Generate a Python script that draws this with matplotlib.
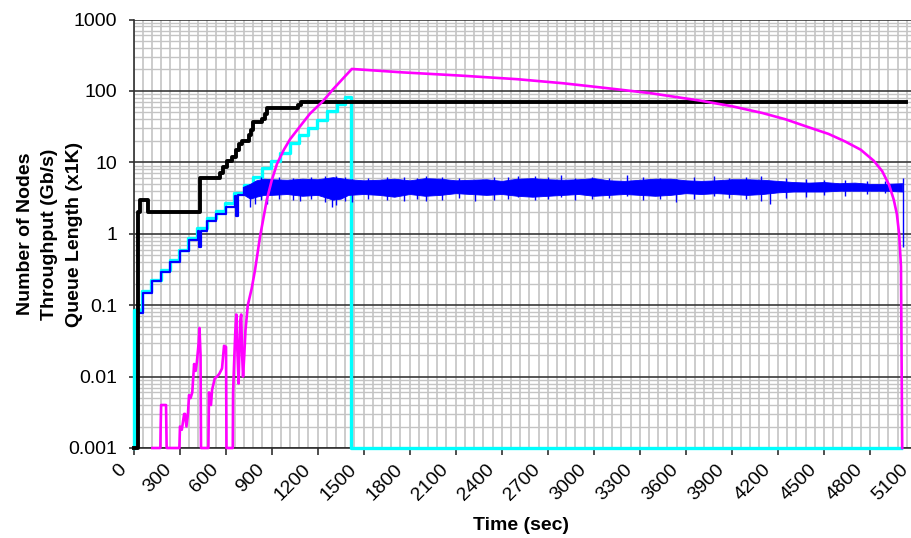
import matplotlib
matplotlib.use('Agg')
import matplotlib.pyplot as plt
import matplotlib.transforms as mtransforms
from matplotlib.ticker import FixedLocator, FixedFormatter, MultipleLocator, LogLocator, NullFormatter

plt.rcParams['font.family'] = ['Liberation Sans', 'DejaVu Sans']

# ---------------- data ----------------
# Number of nodes (black, step)
t_nodes = [0, 30, 40, 95, 434, 564, 585, 610, 640, 665, 690, 705, 750, 765, 780, 840, 855, 870, 1075, 1090, 1105, 5038]
nodes = [0.001, 2, 3, 2, 6, 7, 8.7, 10.5, 12, 15, 18, 20, 24, 28, 37, 40, 48, 57, 64, 69, 71, 71]

# cyan step series
t_cyan = [0, 5, 57, 117, 177, 237, 297, 357, 417, 477, 537, 597, 657, 717, 777, 837, 897, 957, 1017, 1077,
          1137, 1197, 1262, 1327, 1379, 1417, 5000]
cyan = [0.001, 0.086, 0.156, 0.228, 0.314, 0.433, 0.6, 0.87, 1.2, 1.66, 2.05, 2.68, 3.7, 4.84, 6.3, 8.3,
        10.3, 13.4, 18.5, 24.3, 30, 39.3, 52, 66, 82, 0.001, 0.001]

# throughput (blue) - ramp part
t_blue_ramp = [40, 60, 120, 180, 240, 300, 360, 420, 430, 440, 480, 540, 600, 660, 670, 680, 720]
blue_ramp = [0.078, 0.147, 0.22, 0.29, 0.40, 0.57, 0.82, 1.1, 0.65, 1.1, 1.5, 1.9, 2.4, 3.4, 1.8, 3.5, 4.4]

# throughput (blue) - steady part, lower / upper envelope
t_band = [720, 760, 800, 850, 900, 1000, 1100, 1200, 1300, 1350, 1400, 1500, 1600, 1700, 1800, 1900, 2000,
          2100, 2200, 2300, 2400, 2500, 2600, 2700, 2800, 2900, 3000, 3100, 3200, 3300, 3400, 3500, 3600,
          3700, 3800, 3900, 4000, 4100, 4200, 4300, 4400, 4500, 4600, 4700, 4800, 4900, 5010]
band_hi = [4.6, 5.0, 5.6, 5.9, 5.8, 5.7, 5.9, 5.8, 6.2, 6.0, 5.8, 5.6, 5.7, 5.9, 5.6, 6.0, 5.9, 5.6, 5.7,
           5.8, 5.5, 5.9, 6.0, 5.8, 5.7, 5.8, 6.0, 5.6, 5.5, 5.7, 5.9, 5.9, 5.6, 5.5, 5.6, 5.8, 5.8, 5.7,
           5.5, 5.3, 5.2, 5.3, 5.1, 5.2, 5.0, 5.0, 5.1]
band_lo = [3.5, 3.1, 3.3, 3.5, 3.5, 3.6, 3.4, 3.5, 3.0, 3.1, 3.5, 3.6, 3.5, 3.3, 3.6, 3.4, 3.5, 3.7, 3.6,
           3.5, 3.6, 3.4, 3.3, 3.4, 3.5, 3.6, 3.4, 3.5, 3.6, 3.5, 3.4, 3.5, 3.7, 3.6, 3.7, 3.6, 3.5, 3.6,
           3.8, 3.9, 3.9, 3.9, 4.0, 4.0, 4.0, 4.0, 3.9]
# individual spikes of the blue trace
spike_t = [760, 792, 830, 867, 950, 1040, 1086, 1160, 1250, 1295, 1320, 1380, 1425, 1530, 1650, 1760, 1850,
           1908, 2010, 2120, 2227, 2350, 2440, 2508, 2620, 2700, 2785, 2880, 2990, 3100, 3219, 3320, 3430,
           3538, 3650, 3786, 3880, 3990, 4093, 4151, 4250, 4380, 4500, 4640, 4780, 4900, 5015]
spike_lo = [2.4, 2.6, 3.0, 2.6, 3.1, 3.0, 2.9, 3.1, 2.8, 2.4, 2.5, 2.9, 2.8, 3.1, 3.0, 2.9, 3.1,
            2.9, 3.0, 3.2, 2.9, 3.0, 3.1, 3.3, 3.0, 3.1, 3.3, 3.0, 3.1, 3.2, 3.4, 3.0, 3.1,
            2.8, 3.1, 3.4, 3.2, 3.1, 2.9, 2.6, 3.2, 3.3, 3.5, 3.4, 3.6, 3.7, 0.66]
spike_hi = [5.0, 5.5, 6.2, 5.5, 6.3, 6.1, 5.8, 6.2, 6.5, 6.0, 6.4, 6.2, 5.8, 6.1, 6.2, 6.3, 6.1,
            6.5, 6.2, 6.0, 5.6, 6.2, 6.3, 6.4, 6.5, 6.2, 6.6, 6.1, 6.3, 6.1, 6.7, 6.2, 6.1,
            5.8, 6.3, 6.4, 6.0, 6.2, 6.5, 5.5, 6.0, 5.8, 5.7, 5.6, 5.5, 5.4, 6.1]

# queue length (magenta)
t_queue = [123, 129, 175, 177, 180, 212, 216, 299, 303, 315, 330, 336, 345, 355, 362, 372, 383, 395, 405,
           413, 425, 430, 437, 440, 488, 492, 505, 512, 530, 545, 560, 577, 590, 603, 606, 647, 649, 655,
           663, 670, 675, 685, 695, 702, 708, 714, 722, 730, 745, 770, 792, 825, 850, 869, 900, 935, 980,
           1020, 1086, 1150, 1235, 1300, 1360, 1423, 1750, 2129, 2500, 2800, 3043, 3369, 3695, 3900, 4100,
           4250, 4400, 4530, 4640, 4740, 4825, 4880, 4925, 4955, 4975, 4990, 5002, 5010]
queue = [0.001, 0.001, 0.001, 0.002, 0.004, 0.004, 0.001, 0.001, 0.002, 0.0018, 0.003, 0.003, 0.002, 0.003,
         0.0055, 0.005, 0.006, 0.015, 0.012, 0.016, 0.03, 0.048, 0.02, 0.001, 0.001, 0.006, 0.004, 0.0065,
         0.0095, 0.01, 0.011, 0.013, 0.027, 0.026, 0.001, 0.001, 0.006, 0.014, 0.04, 0.074, 0.03, 0.008,
         0.06, 0.074, 0.02, 0.01, 0.02, 0.045, 0.1, 0.17, 0.31, 0.92, 1.8, 3.0, 5.5, 9.5, 15, 21, 32, 48,
         72, 105, 145, 203, 182, 164, 146, 128, 112, 93, 73, 61, 49, 40, 31, 25, 19.5, 15, 10.5, 7.5, 4.8,
         3.0, 1.9, 1.0, 0.35, 0.001]

x_ticks = list(range(0, 5101, 300))
x_labels = [str(v) for v in x_ticks]
y_ticks = [0.001, 0.01, 0.1, 1, 10, 100, 1000]
y_labels = ['0.001', '0.01', '0.1', '1', '10', '100', '1000']

# ---------------- figure ----------------
W, H = 911, 538
fig = plt.figure(figsize=(W / 100, H / 100), dpi=100)
left_px, right_px, top_px, bot_px = 133.5, 916, 19.5, 448
ax = fig.add_axes([left_px / W, 1 - bot_px / H, (right_px - left_px) / W, (bot_px - top_px) / H])

ax.set_yscale('log')
ax.set_ylim(1e-3, 1e3)
ax.set_xlim(0, 5100)

# grid
ax.set_axisbelow(True)
ax.yaxis.set_minor_locator(LogLocator(base=10, subs=[2, 3, 4, 5, 6, 7, 8, 9]))
ax.yaxis.set_minor_formatter(NullFormatter())
ax.xaxis.set_minor_locator(MultipleLocator(60))
ax.grid(which='minor', axis='y', color='#c4c4c4', lw=1.0)
ax.grid(which='major', axis='y', color='#3a3a3a', lw=1.2)
ax.grid(which='both', axis='x', color='#c4c4c4', lw=1.2)

# series
ax.plot(t_cyan, cyan, drawstyle='steps-post', color='#00ffff', lw=2.4, clip_on=False, zorder=3)
ax.fill_between(t_band, band_lo, band_hi, color='#0000ff', lw=0.6, zorder=4)
ax.vlines(spike_t, spike_lo, spike_hi, color='#0000ff', lw=1.0, zorder=4)
ax.plot(t_blue_ramp, blue_ramp, drawstyle='steps-post', color='#0000ff', lw=1.6, zorder=4)
ax.plot(t_nodes, nodes, drawstyle='steps-post', color='#000000', lw=2.8, clip_on=False, zorder=5)
ax.plot(t_queue, queue, color='#ff00ff', lw=1.9, clip_on=False, zorder=6)

# axes styling
for s in ['top', 'right']:
    ax.spines[s].set_visible(False)
for s in ['left', 'bottom']:
    ax.spines[s].set_color('#303030')
    ax.spines[s].set_linewidth(1.2)
    ax.spines[s].set_zorder(2.5)

ax.yaxis.set_major_locator(FixedLocator(y_ticks))
ax.yaxis.set_major_formatter(FixedFormatter(y_labels))
ax.set_xticks(x_ticks)
ax.set_xticklabels(x_labels, rotation=45, ha='right', va='center', rotation_mode='anchor')
ax.tick_params(axis='both', which='major', labelsize=14, color='#303030', direction='out')
ax.tick_params(axis='y', which='major', length=3.6, width=1.2, pad=8)
ax.tick_params(axis='x', which='major', length=5, width=1.2, pad=8.5)
ax.tick_params(which='minor', length=0)
shift = mtransforms.ScaledTranslation(-0.10, 0, fig.dpi_scale_trans)
for lbl in ax.get_xticklabels():
    lbl.set_transform(lbl.get_transform() + shift)

fig.text(50 / W, 1 - 234 / H, 'Number of Nodes\nThroughput (Gb/s)\nQueue Length (x1K)',
         rotation=90, ha='center', va='center', multialignment='center',
         fontsize=14, fontweight='bold', linespacing=1.55)
fig.text(521 / W, 1 - 525 / H, 'Time (sec)', ha='center', va='center', fontsize=14, fontweight='bold')

fig.savefig('out.png', dpi=100)
